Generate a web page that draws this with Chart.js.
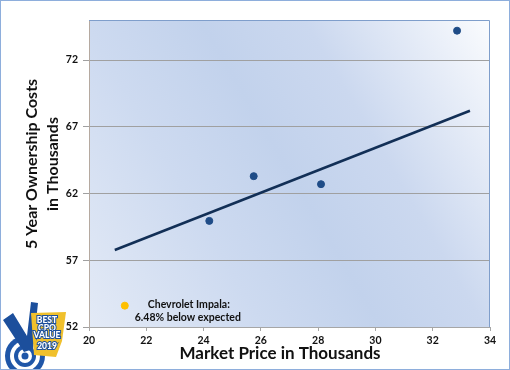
<!DOCTYPE html>
<html>
<head>
<meta charset="utf-8">
<script src="https://cdn.jsdelivr.net/npm/chart.js@4"></script>
<style>
  html, body { margin: 0; padding: 0; background: #fff; }
  #wrap { position: relative; width: 510px; height: 370px; box-sizing: border-box; border: 1px solid #8eaedc; }
  canvas { display: block; }
</style>
</head>
<body>
<div id="wrap"><canvas id="chart" width="508" height="368"></canvas></div>
<script>
// models (market price vs 5 year ownership costs, in thousands)
const marketPrice = [24.2, 25.75, 28.1, 32.85];
const ownershipCost = [59.95, 63.3, 62.7, 74.2];

// highlighted car
const impalaPrice = [21.25];
const impalaCost = [53.6];
const impalaNote = ['Chevrolet Impala:', '6.48% below expected'];

// trend line end points
const trendPrice = [20.9, 33.3];
const trendCost = [57.77, 68.2];

const xTicks = [20, 22, 24, 26, 28, 30, 32, 34];
const yTicks = [52, 57, 62, 67, 72];

const xTitle = 'Market Price in Thousands';
const yTitle = ['5 Year Ownership Costs', 'in Thousands'];

const FONT = "Lato, 'Open Sans', sans-serif";

const toPoints = (xs, ys) => xs.map((x, i) => ({ x: x, y: ys[i] }));

const backdrop = {
    id: 'backdrop',
    beforeDraw(chart) {
        const { ctx, chartArea: a } = chart;
        const w = a.right - a.left, h = a.bottom - a.top;
        // gradient from bottom-left towards top-right
        const g = ctx.createLinearGradient(a.left, a.bottom, a.left + w * 1.08, a.bottom - h * 0.83);
        g.addColorStop(0, '#e3eaf6');
        g.addColorStop(0.3, '#cddaf0');
        g.addColorStop(0.5, '#c2d2ec');
        g.addColorStop(0.68, '#cbd8ef');
        g.addColorStop(1, '#fbfcfe');
        ctx.save();
        ctx.fillStyle = g;
        ctx.fillRect(a.left, a.top, w, h);
        ctx.restore();
    },
    afterDraw(chart) {
        const { ctx, chartArea: a } = chart;
        ctx.save();
        ctx.strokeStyle = '#7f9ecb';
        ctx.lineWidth = 1;
        ctx.beginPath();
        ctx.moveTo(a.left, a.top + 0.5);
        ctx.lineTo(a.right - 0.5, a.top + 0.5);
        ctx.lineTo(a.right - 0.5, a.bottom);
        ctx.stroke();

        // axis titles
        ctx.fillStyle = '#111';
        ctx.textAlign = 'center';
        ctx.textBaseline = 'middle';
        ctx.font = 'bold 17px ' + FONT;
        ctx.fillText(xTitle, 279, 353);
        ctx.save();
        ctx.translate(31, 163);
        ctx.rotate(-Math.PI / 2);
        ctx.font = 'bold 16px ' + FONT;
        ctx.fillText(yTitle[0], 0, 0);
        ctx.fillText(yTitle[1], 0, 21);
        ctx.restore();

        // note beside the highlighted point
        const px = chart.scales.x.getPixelForValue(impalaPrice[0]);
        const py = chart.scales.y.getPixelForValue(impalaCost[0]);
        ctx.font = 'bold 10.5px ' + FONT;
        ctx.fillText(impalaNote[0], px + 64, py - 1);
        ctx.fillText(impalaNote[1], px + 63, py + 12);

        drawBadge(ctx);
        ctx.restore();
    }
};

// small award badge in the lower left corner
function drawBadge(ctx) {
    ctx.save();
    const cx = 24, cy = 355;
    const ring = (r, c) => { ctx.fillStyle = c; ctx.beginPath(); ctx.arc(cx, cy, r, 0, Math.PI * 2); ctx.fill(); };
    ring(20, '#1f56a8');
    ring(15, '#fff');
    ring(11, '#1f56a8');
    ring(7, '#fff');
    ring(3.5, '#1f56a8');
    // check mark
    ctx.fillStyle = '#1c4f9c';
    ctx.beginPath();
    ctx.moveTo(2, 319); ctx.lineTo(12, 312); ctx.lineTo(26, 335);
    ctx.lineTo(30, 301); ctx.lineTo(37, 302); ctx.lineTo(32, 348);
    ctx.lineTo(23, 351); ctx.closePath(); ctx.fill();
    // shield
    ctx.fillStyle = '#f0c02c';
    ctx.beginPath();
    ctx.moveTo(30, 312); ctx.lineTo(65, 311); ctx.lineTo(61, 340);
    ctx.lineTo(55, 356); ctx.lineTo(33, 354); ctx.closePath(); ctx.fill();
    ctx.fillStyle = '#fff';
    ctx.strokeStyle = '#1c4f9c';
    ctx.lineWidth = 2;
    ctx.textAlign = 'center';
    ctx.textBaseline = 'middle';
    ctx.font = '900 8.5px ' + FONT;
    const rows = [['BEST', 319], ['CPO', 327], ['VALUE', 334], ['2019', 345]];
    rows.forEach(r => { ctx.strokeText(r[0], 46, r[1]); ctx.fillText(r[0], 46, r[1]); });
    ctx.restore();
}

new Chart(document.getElementById('chart'), {
    type: 'scatter',
    data: {
        datasets: [
            {
                label: 'Trend',
                type: 'line',
                data: toPoints(trendPrice, trendCost),
                borderColor: '#122f56',
                borderWidth: 2.5,
                pointRadius: 0,
                fill: false
            },
            {
                label: 'Models',
                data: toPoints(marketPrice, ownershipCost),
                backgroundColor: '#1f4c87',
                borderColor: '#1f4c87',
                pointRadius: 3.5
            },
            {
                label: 'Chevrolet Impala',
                data: toPoints(impalaPrice, impalaCost),
                backgroundColor: '#ffc000',
                borderColor: '#ffc000',
                pointRadius: 3.5
            }
        ]
    },
    options: {
        responsive: false,
        animation: false,
        layout: { padding: { top: 19, right: 19, left: 0, bottom: 0 } },
        plugins: { legend: { display: false }, tooltip: { enabled: false } },
        scales: {
            x: {
                type: 'linear',
                min: 20,
                max: 34,
                afterBuildTicks: s => { s.ticks = xTicks.map(v => ({ value: v })); },
                afterFit: s => { s.height = 42; },
                grid: { drawOnChartArea: false, drawTicks: true, tickLength: 4, color: '#a6a6a6' },
                border: { color: '#a6a6a6' },
                ticks: { padding: 3, color: '#111', font: { family: FONT, size: 10.5, weight: 'bold' } }
            },
            y: {
                min: 52,
                max: 75,
                afterBuildTicks: s => { s.ticks = yTicks.map(v => ({ value: v })); },
                afterFit: s => { s.width = 88; },
                grid: { color: '#a0a0a0', tickLength: 6 },
                border: { color: '#b5a9a0' },
                ticks: { padding: 5, color: '#111', font: { family: FONT, size: 10.5, weight: 'bold' } }
            }
        }
    },
    plugins: [backdrop]
});
</script>
</body>
</html>
